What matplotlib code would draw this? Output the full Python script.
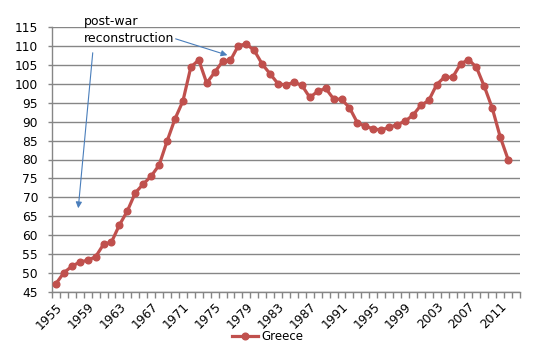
import numpy as np
import matplotlib
matplotlib.use('Agg')
import matplotlib.pyplot as plt
from matplotlib.ticker import MultipleLocator, FixedLocator

# yearly values for Greece
years = list(range(1955, 2013))
greece = [47.2, 50.1, 51.8, 52.9, 53.4, 54.3, 57.6, 58.2, 62.7, 66.4,
          71.2, 73.5, 75.6, 78.5, 84.8, 90.7, 95.4, 104.4, 106.3, 100.2,
          103.0, 105.9, 106.2, 110.1, 110.5, 108.8, 105.2, 102.6, 100.0, 99.7,
          100.4, 99.6, 96.4, 98.0, 98.8, 96.0, 95.9, 93.7, 89.7, 88.8,
          88.1, 87.8, 88.5, 89.2, 90.1, 91.7, 94.3, 95.6, 99.8, 101.8,
          101.7, 105.2, 106.4, 104.4, 99.3, 93.6, 86.0, 80.0]
n_cats = 59          # the category axis runs one slot past the last point
tick_years = list(range(1955, 2012, 4))

red = '#C0504D'
blue = '#4A7EBB'
grid = '#868686'

plt.rcParams['font.family'] = ['DejaVu Sans']

fig = plt.figure(figsize=(5.36, 3.58), dpi=100)
ax = fig.add_axes([52/536, 1-292/358, (520-52)/536, (292-27)/358])

x = np.arange(len(years))
ax.plot(x, greece, color=red, linewidth=2.3, marker='o', markersize=4.8,
        label='Greece', zorder=3)

ax.set_xlim(-0.5, n_cats - 0.5)
ax.set_ylim(45, 115)
ax.yaxis.set_major_locator(MultipleLocator(5))
ax.grid(axis='y', color=grid, linewidth=1.0)
ax.set_axisbelow(True)

# category ticks between slots, labels every fourth year
ax.xaxis.set_minor_locator(FixedLocator(np.arange(-0.5, n_cats, 1)))
ax.set_xticks([years.index(y) for y in tick_years])
ax.set_xticklabels([str(y) for y in tick_years], rotation=45, ha='right',
                   va='top', rotation_mode='anchor', fontsize=8.8)
ax.tick_params(axis='x', which='major', length=0, pad=6)
ax.tick_params(axis='x', which='minor', length=4, color=grid, width=1)
ax.tick_params(axis='y', length=3, color=grid, width=1, labelsize=8.8, pad=7)

for side in ['top', 'right']:
    ax.spines[side].set_visible(False)
for side in ['left', 'bottom']:
    ax.spines[side].set_color(grid)
    ax.spines[side].set_linewidth(1.0)

# annotation text and arrows (in pixel terms of the figure)
fig.text(84/536, 1-22/358, 'post-war', fontsize=9, va='center', ha='left')
fig.text(84/536, 1-39/358, 'reconstruction', fontsize=9, va='center', ha='left')
fig.add_artist(matplotlib.patches.FancyArrowPatch(
    (173/536, 1-38/358), (230/536, 1-56/358), transform=fig.transFigure,
    arrowstyle='-|>', mutation_scale=9, color=blue, linewidth=0.8))
fig.add_artist(matplotlib.patches.FancyArrowPatch(
    (93/536, 1-50/358), (78/536, 1-211/358), transform=fig.transFigure,
    arrowstyle='-|>', mutation_scale=9, color=blue, linewidth=0.8))

fig.legend(loc='center', bbox_to_anchor=(268/536, 1-337/358), frameon=False,
           fontsize=8.5, handlelength=2.2, handletextpad=0.3)

fig.savefig('out.png', dpi=100)
